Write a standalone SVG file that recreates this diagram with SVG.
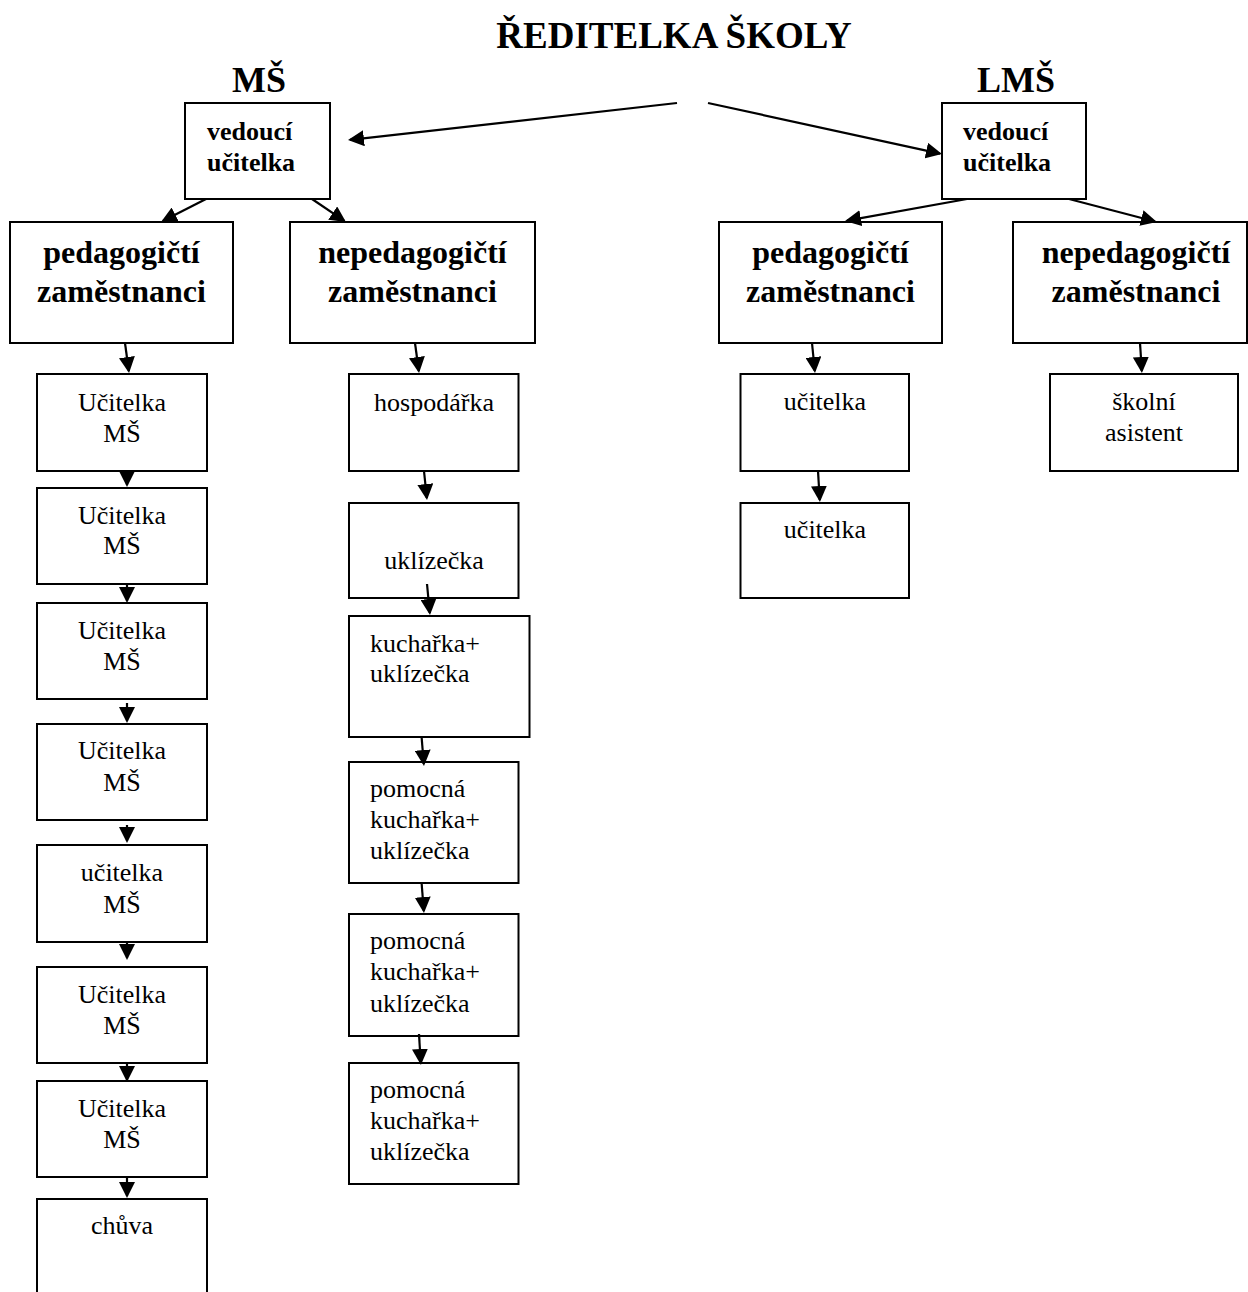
<svg xmlns="http://www.w3.org/2000/svg" width="1248" height="1292" viewBox="0 0 1248 1292">
<style>
.box{fill:#fff;stroke:#000;stroke-width:2}
.t{font-family:"Liberation Serif","Times New Roman",serif;font-size:26px;fill:#000}
.c{text-anchor:middle}
.b{font-weight:bold}
.big{font-size:32px}
.hd{font-size:36px;font-weight:bold;text-anchor:middle}
.cn{stroke:#000;stroke-width:2.2;fill:none;marker-end:url(#ah)}
</style>
<defs>
<marker id="ah" markerUnits="userSpaceOnUse" markerWidth="16" markerHeight="16" refX="14" refY="8" orient="auto" viewBox="0 0 16 16">
<path d="M0,0 L16,8 L0,16 z" fill="#000"/>
</marker>
</defs>
<rect width="1248" height="1292" fill="#fff"/>
<g id="title">
<text class="t hd" x="674" y="48" style="font-size:37px">ŘEDITELKA ŠKOLY</text>
<text class="t hd" x="259" y="92">MŠ</text>
<text class="t hd" x="1016" y="92">LMŠ</text>
</g>
<g id="ms-vedouci">
<rect class="box" x="185" y="103" width="145" height="96"/>
<text class="t b" x="207" y="140">vedoucí</text>
<text class="t b" x="207" y="171">učitelka</text>
</g>
<g id="lms-vedouci">
<rect class="box" x="942" y="103" width="144" height="96"/>
<text class="t b" x="963" y="140">vedoucí</text>
<text class="t b" x="963" y="171">učitelka</text>
</g>
<g id="ms-ped">
<rect class="box" x="10" y="222" width="223" height="121"/>
<text class="t b big c" x="121.5" y="263">pedagogičtí</text>
<text class="t b big c" x="121.5" y="302">zaměstnanci</text>
</g>
<g id="ms-neped">
<rect class="box" x="290" y="222" width="245" height="121"/>
<text class="t b big c" x="412.5" y="263">nepedagogičtí</text>
<text class="t b big c" x="412.5" y="302">zaměstnanci</text>
</g>
<g id="lms-ped">
<rect class="box" x="719" y="222" width="223" height="121"/>
<text class="t b big c" x="830.5" y="263">pedagogičtí</text>
<text class="t b big c" x="830.5" y="302">zaměstnanci</text>
</g>
<g id="lms-neped">
<rect class="box" x="1013" y="222" width="234" height="121"/>
<text class="t b big c" x="1136" y="263">nepedagogičtí</text>
<text class="t b big c" x="1136" y="302">zaměstnanci</text>
</g>
<g id="ms-u1">
<rect class="box" x="37" y="374" width="170" height="97"/>
<text class="t c" x="122" y="411">Učitelka</text>
<text class="t c" x="122" y="442">MŠ</text>
</g>
<g id="ms-u2">
<rect class="box" x="37" y="488" width="170" height="96"/>
<text class="t c" x="122" y="524">Učitelka</text>
<text class="t c" x="122" y="554">MŠ</text>
</g>
<g id="ms-u3">
<rect class="box" x="37" y="603" width="170" height="96"/>
<text class="t c" x="122" y="639">Učitelka</text>
<text class="t c" x="122" y="670">MŠ</text>
</g>
<g id="ms-u4">
<rect class="box" x="37" y="724" width="170" height="96"/>
<text class="t c" x="122" y="759">Učitelka</text>
<text class="t c" x="122" y="791">MŠ</text>
</g>
<g id="ms-u5">
<rect class="box" x="37" y="845" width="170" height="97"/>
<text class="t c" x="122" y="881">učitelka</text>
<text class="t c" x="122" y="913">MŠ</text>
</g>
<g id="ms-u6">
<rect class="box" x="37" y="967" width="170" height="96"/>
<text class="t c" x="122" y="1003">Učitelka</text>
<text class="t c" x="122" y="1034">MŠ</text>
</g>
<g id="ms-u7">
<rect class="box" x="37" y="1081" width="170" height="96"/>
<text class="t c" x="122" y="1117">Učitelka</text>
<text class="t c" x="122" y="1148">MŠ</text>
</g>
<g id="ms-chuva">
<rect class="box" x="37" y="1199" width="170" height="110"/>
<text class="t c" x="122" y="1234">chůva</text>
</g>
<g id="hospodarka">
<rect class="box" x="349" y="374" width="169.5" height="97"/>
<text class="t c" x="434" y="411">hospodářka</text>
</g>
<g id="uklizecka">
<rect class="box" x="349" y="503" width="169.5" height="95"/>
<text class="t c" x="434" y="569">uklízečka</text>
</g>
<g id="kucharka">
<rect class="box" x="349" y="616" width="180.5" height="121"/>
<text class="t" x="370" y="652">kuchařka+</text>
<text class="t" x="370" y="682">uklízečka</text>
</g>
<g id="pomocna1">
<rect class="box" x="349" y="762" width="169.5" height="121"/>
<text class="t" x="370" y="797">pomocná</text>
<text class="t" x="370" y="828">kuchařka+</text>
<text class="t" x="370" y="859">uklízečka</text>
</g>
<g id="pomocna2">
<rect class="box" x="349" y="914" width="169.5" height="122"/>
<text class="t" x="370" y="949">pomocná</text>
<text class="t" x="370" y="980">kuchařka+</text>
<text class="t" x="370" y="1012">uklízečka</text>
</g>
<g id="pomocna3">
<rect class="box" x="349" y="1063" width="169.5" height="121"/>
<text class="t" x="370" y="1098">pomocná</text>
<text class="t" x="370" y="1129">kuchařka+</text>
<text class="t" x="370" y="1160">uklízečka</text>
</g>
<g id="lms-u1">
<rect class="box" x="740.5" y="374" width="168.5" height="97"/>
<text class="t c" x="825" y="410">učitelka</text>
</g>
<g id="lms-u2">
<rect class="box" x="740.5" y="503" width="168.5" height="95"/>
<text class="t c" x="825" y="538">učitelka</text>
</g>
<g id="skolni-asistent">
<rect class="box" x="1050" y="374" width="188" height="97"/>
<text class="t c" x="1144" y="410">školní</text>
<text class="t c" x="1144" y="441">asistent</text>
</g>
<g id="connectors">
<line class="cn" x1="677" y1="103" x2="350" y2="139.8"/>
<line class="cn" x1="708" y1="103" x2="940" y2="153.6"/>
<line class="cn" x1="206" y1="199" x2="162.8" y2="221.1"/>
<line class="cn" x1="312" y1="199" x2="344.3" y2="220.9"/>
<line class="cn" x1="967" y1="199" x2="847" y2="220.6"/>
<line class="cn" x1="1069" y1="199" x2="1155" y2="221.5"/>
<line class="cn" x1="125" y1="343" x2="128.8" y2="371"/>
<line class="cn" x1="127" y1="471" x2="127" y2="485"/>
<line class="cn" x1="127" y1="584" x2="127" y2="601"/>
<line class="cn" x1="127" y1="703" x2="127" y2="721"/>
<line class="cn" x1="127" y1="825" x2="127" y2="841"/>
<line class="cn" x1="127" y1="942" x2="127" y2="958"/>
<line class="cn" x1="127" y1="1063" x2="127" y2="1080"/>
<line class="cn" x1="127" y1="1177" x2="127" y2="1196"/>
<line class="cn" x1="415" y1="343" x2="418.8" y2="371"/>
<line class="cn" x1="424" y1="471" x2="426.8" y2="498"/>
<line class="cn" x1="427" y1="584" x2="429.8" y2="613"/>
<line class="cn" x1="421.6" y1="737" x2="423.8" y2="764"/>
<line class="cn" x1="421.6" y1="883" x2="423.8" y2="911"/>
<line class="cn" x1="419" y1="1034" x2="420.8" y2="1063"/>
<line class="cn" x1="812" y1="343" x2="814.8" y2="371"/>
<line class="cn" x1="818" y1="471" x2="819.8" y2="500"/>
<line class="cn" x1="1140" y1="343" x2="1141.8" y2="371"/>
</g>
</svg>
